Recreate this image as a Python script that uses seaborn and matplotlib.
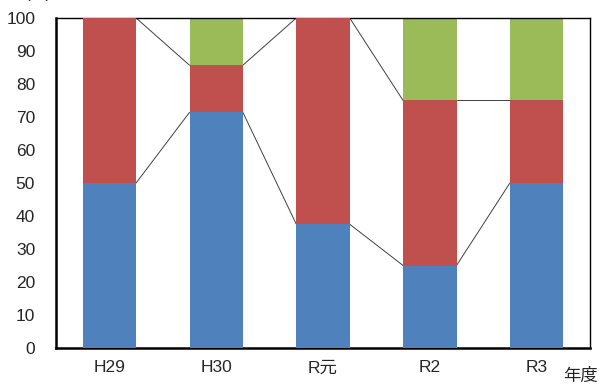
import matplotlib
matplotlib.use("Agg")
import matplotlib.pyplot as plt
import seaborn as sns
import pandas as pd
import numpy as np

categories = ["H29", "H30", "R元", "R2", "R3"]
blue_vals = [50.0, 71.4, 37.5, 25.0, 50.0]
red_vals = [50.0, 14.3, 62.5, 50.0, 25.0]
green_vals = [0.0, 14.3, 0.0, 25.0, 25.0]
y_ticks = [0, 10, 20, 30, 40, 50, 60, 70, 80, 90, 100]

sns.set_theme(style="white")
plt.rcParams['font.family'] = ['Liberation Sans', 'Noto Sans CJK JP', 'DejaVu Sans']

colors = {"blue": "#4F81BD", "red": "#C0504D", "green": "#9BBB59"}

c1 = np.array(blue_vals)
c2 = c1 + np.array(red_vals)
c3 = c2 + np.array(green_vals)

df = pd.DataFrame({"cat": categories, "c1": c1, "c2": c2, "c3": c3})

fig = plt.figure(figsize=(6.03, 3.85), dpi=100)
ax = fig.add_axes([56/603, 37/385, (590-56)/603, (348-18)/385])

bw = 0.5
sns.barplot(data=df, x="cat", y="c3", color=colors["green"], width=bw, ax=ax,
            saturation=1, edgecolor="none", linewidth=0, zorder=2)
sns.barplot(data=df, x="cat", y="c2", color=colors["red"], width=bw, ax=ax,
            saturation=1, edgecolor="none", linewidth=0, zorder=3)
sns.barplot(data=df, x="cat", y="c1", color=colors["blue"], width=bw, ax=ax,
            saturation=1, edgecolor="none", linewidth=0, zorder=4)

# series lines between bars
for cum in (c1, c2, c3):
    for i in range(len(categories) - 1):
        ax.plot([i + bw/2, i + 1 - bw/2], [cum[i], cum[i+1]],
                color="#404040", lw=0.7, zorder=1)

ax.set_xlim(-0.5, len(categories) - 0.5)
ax.set_ylim(0, 100)
ax.set_yticks(y_ticks)
ax.set_yticklabels([str(v) for v in y_ticks], fontsize=12.5)
ax.set_xlabel("")
ax.set_ylabel("")

ax.set_xticks(range(len(categories)))
ax.set_xticklabels(categories, fontsize=12.5)
ax.tick_params(axis="x", length=0, pad=9)
ax.set_xticks(np.arange(-0.5, len(categories), 1), minor=True)
ax.tick_params(axis="x", which="minor", direction="in", length=4, color="#808080", width=0.8)
ax.tick_params(axis="y", direction="in", length=4, color="#404040", width=0.8, pad=15)

for s in ("left", "bottom"):
    ax.spines[s].set_color("black")
    ax.spines[s].set_linewidth(1.8)
for s in ("top", "right"):
    ax.spines[s].set_color("black")
    ax.spines[s].set_linewidth(1.0)
    ax.spines[s].set_visible(True)

fig.text(580/603, 1 - 376/385, "年度", fontsize=12.5, ha="center", va="center")
fig.text(38/603, 1 - 1/385, "(%)", fontsize=12.5, ha="center", va="bottom")

fig.savefig("out.png", dpi=100)
